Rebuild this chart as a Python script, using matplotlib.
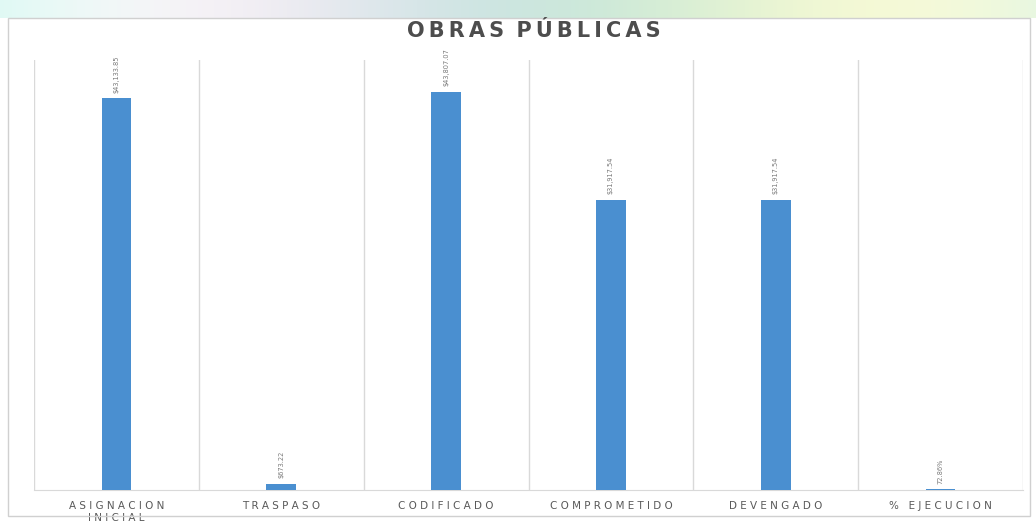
import numpy as np
import matplotlib.pyplot as plt
from matplotlib.patches import Rectangle

# Data
categories = ["ASIGNACION\nINICIAL", "TRASPASO", "CODIFICADO", "COMPROMETIDO", "DEVENGADO", "% EJECUCION"]
values = [43133.85, 673.22, 43807.07, 31917.54, 31917.54, 72.86]
value_labels = ["$43,133.85", "$673.22", "$43,807.07", "$31,917.54", "$31,917.54", "72.86%"]

bar_color = "#4a8fd0"
grid_color = "#d9d9d9"
text_gray = "#595959"


def spaced(s, sep=" "):
    return "\n".join(sep.join(line.replace(" ", "")) if " " not in line
                     else (sep * 3).join(sep.join(w) for w in line.split(" "))
                     for line in s.split("\n"))


fig = plt.figure(figsize=(10.36, 5.24), dpi=100)
fig.patch.set_facecolor("white")

# top banner strip (cut off slide header)
band = fig.add_axes([0, 1 - 18 / 524, 1, 18 / 524])
grad = np.linspace(0, 1, 256)
r = 0.88 + 0.08 * np.sin(grad * 9)
g = 0.94 + 0.04 * np.cos(grad * 7)
b = 0.90 + 0.07 * np.sin(grad * 5 + 1)
img = np.dstack([r, g, b]).clip(0, 1)
band.imshow(img, aspect="auto", extent=[0, 1, 0, 1])
band.axis("off")

# chart frame
fig.patches.append(Rectangle((8 / 1036, 8 / 524), 1022 / 1036, 498 / 524,
                             transform=fig.transFigure, fill=False,
                             edgecolor="#d0d0d0", linewidth=1))

ax = fig.add_axes([34 / 1036, 1 - 490 / 524, 989 / 1036, 430 / 524])
x = np.arange(len(categories))
ax.bar(x, values, width=0.18, color=bar_color, zorder=3)
ax.set_xlim(-0.5, len(categories) - 0.5)
ax.set_ylim(0, 47330)

for xi in np.arange(-0.5, len(categories), 1.0):
    ax.axvline(xi, color=grid_color, linewidth=1, zorder=1)

for xi, v, lab in zip(x, values, value_labels):
    ax.annotate(lab, (xi, v), xytext=(0, 4), textcoords="offset points",
                rotation=90, ha="center", va="bottom", fontsize=4.8, color="#7a7a7a")

for s in ["top", "left", "right"]:
    ax.spines[s].set_visible(False)
ax.spines["bottom"].set_color(grid_color)
ax.set_yticks([])
ax.set_xticks(x)
ax.set_xticklabels([spaced(c) for c in categories], fontsize=7.5, color=text_gray,
                   linespacing=1.2)
ax.tick_params(axis="x", length=0, pad=8)

fig.text(0.515, 1 - 31 / 524, spaced("OBRAS PÚBLICAS", "\u2009"), ha="center", va="center",
         fontsize=15, fontweight="bold", color="#4d4d4d")

fig.savefig("out.png", dpi=100)
